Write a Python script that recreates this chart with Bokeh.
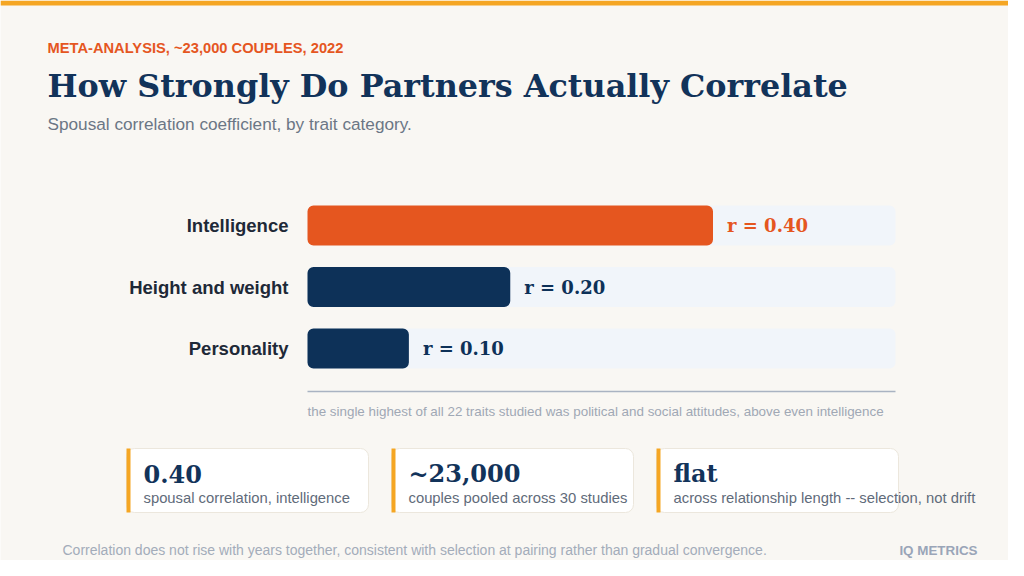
from bokeh.plotting import figure
from bokeh.models import Label, BoxAnnotation, Range1d
from bokeh.core.properties import value
from bokeh.embed import file_html
from bokeh.resources import INLINE

# ---- data ----
categories = ["Intelligence", "Height and weight", "Personality"]
correlations = [0.40, 0.20, 0.10]
value_labels = ["r = 0.40", "r = 0.20", "r = 0.10"]
bar_colors = ["#E5561F", "#0D3158", "#0D3158"]

card_values = ["0.40", "~23,000", "flat"]
card_captions = ["spousal correlation, intelligence",
                 "couples pooled across 30 studies",
                 "across relationship length -- selection, not drift"]

eyebrow = "META-ANALYSIS, ~23,000 COUPLES, 2022"
title = "How Strongly Do Partners Actually Correlate"
subtitle = "Spousal correlation coefficient, by trait category."
note = "the single highest of all 22 traits studied was political and social attitudes, above even intelligence"
footer = "Correlation does not rise with years together, consistent with selection at pairing rather than gradual convergence."
brand = "IQ METRICS"

# ---- layout (figure pixels, origin top-left) ----
W, H = 1008, 560
BG = "#F9F7F3"
NAVY = "#12335A"
SERIF = "DejaVu Serif"
SANS = "Liberation Sans"
X_MAX = 0.58                 # value at the end of the background track
PLOT_L, PLOT_R = 307, 895    # pixel span of the value axis
ROW_TOP, ROW_PX = 225, 61.5  # pixel centre of first row, pixels per row

px_per_val = (PLOT_R - PLOT_L) / X_MAX
val_start = -PLOT_L / px_per_val
val_end = val_start + W / px_per_val
n = len(categories)
ys = list(range(n - 1, -1, -1))
cat_top = (n - 1) + ROW_TOP / ROW_PX
cat_bottom = cat_top - H / ROW_PX

p = figure(width=W, height=H, output_backend="svg", toolbar_location=None,
           x_range=Range1d(0, W), y_range=Range1d(H, 0),
           min_border=0, x_axis_type=None, y_axis_type=None)
p.extra_x_ranges = {"val": Range1d(val_start, val_end)}
p.extra_y_ranges = {"cat": Range1d(cat_bottom, cat_top)}
p.background_fill_color = BG
p.border_fill_color = BG
p.outline_line_color = None
p.grid.visible = False


def label(x, y, text, size, color, font=SANS, style="normal", align="left"):
    p.add_layout(Label(x=x, y=y, text=text, text_font_size=f"{size}px",
                       text_color=color, text_font=font, text_font_style=style,
                       text_align=align, text_baseline="middle"))


def box(l, t, r, b, fill, line=None, radius=0):
    p.add_layout(BoxAnnotation(left=l, right=r, top=t, bottom=b,
                               fill_color=fill, fill_alpha=1.0,
                               line_color=line if line else fill,
                               line_alpha=1.0 if line else 0.0,
                               border_radius=radius, level="underlay"))


# top accent bar
box(0, 0, W, 5, "#F5A623")

# track + bars (value scale)
kw = dict(x_range_name="val", y_range_name="cat")
p.hbar(y=ys, left=0, right=X_MAX, height=0.65, fill_color="#F1F5FA",
       line_color=None, border_radius=6, **kw)
p.hbar(y=ys, left=0, right=correlations, height=0.65, fill_color=bar_colors,
       line_color=None, border_radius=6, **kw)
p.text(x=correlations, y=ys, text=value_labels, x_offset=14,
       text_baseline="middle", text_align="left",
       text_font=value(SERIF), text_font_style="bold",
       text_font_size="18px", text_color=bar_colors, **kw)
p.text(x=[0] * n, y=ys, text=categories, x_offset=-19,
       text_baseline="middle", text_align="right",
       text_font=value(SANS), text_font_style="bold",
       text_font_size="18.5px", text_color="#1E2937", **kw)
# baseline rule
p.segment(x0=[0], x1=[X_MAX], y0=[-0.70], y1=[-0.70],
          line_color="#A9B3C2", line_width=1.5, **kw)

label(47, 47, eyebrow, 14.7, "#E5561F", style="bold")
label(47, 85, title, 31.8, NAVY, font=SERIF, style="bold")
label(47, 123, subtitle, 17.2, "#6B7685")
label(307, 411, note, 13.4, "#A0A8B5")

for i, (v, c) in enumerate(zip(card_values, card_captions)):
    left = 126 + i * 265
    box(left, 448, left + 242, 512, "#FFFFFF", line="#ECE7DD", radius=8)
    box(left, 448, left + 4, 512, "#F5A623")
    label(left + 17, 473, v, 24, NAVY, font=SERIF, style="bold")
    label(left + 17, 497, c, 14.8, "#5F6B7A")

label(62, 549, footer, 14, "#A3ACBA")
label(977, 550, brand, 13.4, "#9AA5B8", style="bold", align="right")

open("out.html", "w").write(file_html(p, INLINE))
